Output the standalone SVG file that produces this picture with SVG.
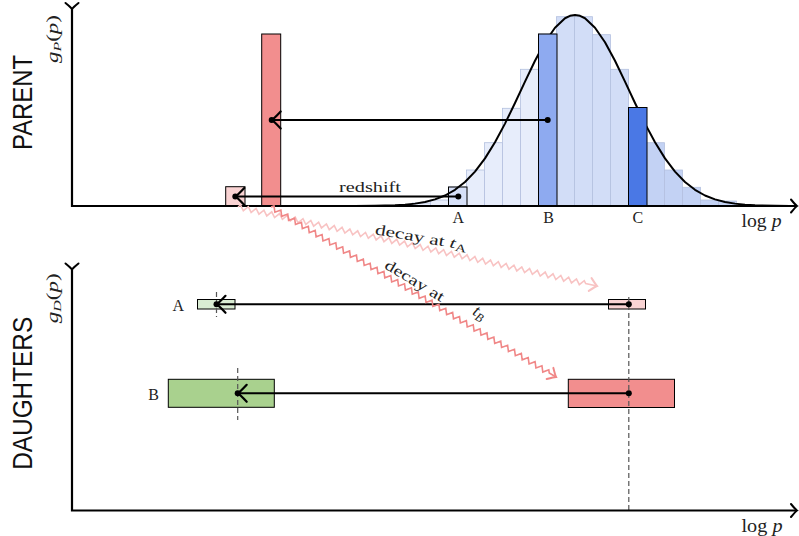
<svg xmlns="http://www.w3.org/2000/svg" width="799" height="536" viewBox="0 0 799 536">
<style>
.ax{stroke:#000;stroke-width:2.2;fill:none}
.bar{stroke:#000;stroke-width:1}
.hl{fill:#e7edfb;stroke:#b3c0df;stroke-width:0.8}
.hm{fill:#d2ddf7;stroke:#b3c0df;stroke-width:0.8}
.hr{fill:#c3d2f4;stroke:#b3c0df;stroke-width:0.8}
.arr{stroke:#000;stroke-width:2;fill:none}
.dash{stroke:#555;stroke-width:1.2;stroke-dasharray:5 3;fill:none}
.lab{font-family:'Liberation Serif','Times New Roman',serif;fill:#222}
.side{font-family:'Liberation Sans',Arial,sans-serif;font-size:27px;fill:#111}
.it{font-style:italic}
</style>
<defs>
<marker id="axh" markerUnits="userSpaceOnUse" orient="auto" overflow="visible" markerWidth="1" markerHeight="1">
<path d="M-6,-6.5 Q-1.5,-1 0,0 Q-1.5,1 -6,6.5" fill="none" stroke="#000" stroke-width="2" stroke-linecap="round"/>
</marker>
<marker id="ah" markerUnits="userSpaceOnUse" orient="auto" overflow="visible" markerWidth="1" markerHeight="1">
<path d="M-9,-8.5 Q-2,-1 0,0 Q-2,1 -9,8.5" fill="none" stroke="#000" stroke-width="2.2" stroke-linecap="round"/>
</marker>
<marker id="ahL" markerUnits="userSpaceOnUse" orient="auto" overflow="visible" markerWidth="1" markerHeight="1">
<path d="M-7,-6.5 Q-1.5,-1 0,0 Q-1.5,1 -7,6.5" fill="none" stroke="#f8c3c3" stroke-width="2" stroke-linecap="round"/>
</marker>
<marker id="ahD" markerUnits="userSpaceOnUse" orient="auto" overflow="visible" markerWidth="1" markerHeight="1">
<path d="M-7,-6.5 Q-1.5,-1 0,0 Q-1.5,1 -7,6.5" fill="none" stroke="#f08787" stroke-width="2" stroke-linecap="round"/>
</marker>
</defs>
<rect x="0" y="0" width="799" height="536" fill="#fff"/>

<!-- PARENT panel -->
<g id="histogram">
<rect class="hl" x="412.5" y="203" width="18" height="3"/>
<rect class="hl" x="430.5" y="200" width="18" height="6"/>
<rect class="hl" x="448.5" y="187" width="18" height="19"/>
<rect class="hl" x="466.5" y="170" width="18" height="36"/>
<rect class="hl" x="484.5" y="142.7" width="18" height="63.3"/>
<rect class="hl" x="502.5" y="108.3" width="18" height="97.7"/>
<rect class="hl" x="520.5" y="69.3" width="18" height="136.7"/>
<rect class="hm" x="538.5" y="34" width="18" height="172"/>
<rect class="hm" x="556.5" y="16.7" width="18" height="189.3"/>
<rect class="hm" x="574.5" y="16.7" width="18" height="189.3"/>
<rect class="hm" x="592.5" y="34.7" width="18" height="171.3"/>
<rect class="hm" x="610.5" y="69.3" width="18" height="136.7"/>
<rect class="hr" x="628.5" y="107.5" width="18" height="98.5"/>
<rect class="hr" x="646.5" y="142.7" width="18" height="63.3"/>
<rect class="hr" x="664.5" y="170" width="18" height="36"/>
<rect class="hr" x="682.5" y="187.3" width="18" height="18.7"/>
<rect class="hr" x="700.5" y="200" width="18" height="6"/>
<rect class="hr" x="718.5" y="201" width="18" height="5"/>
</g>
<g id="parent-redshifted-A"><rect class="bar" x="225.7" y="186.7" width="19.3" height="19.3" fill="#f9d3d3"/></g>
<g id="parent-redshifted-B"><rect class="bar" x="261.7" y="34" width="19" height="172" fill="#f28e8e"/></g>
<g id="parent-A"><rect class="bar" x="448.5" y="187" width="18.5" height="19" fill="#d6e0f8"/></g>
<g id="gaussian">
<polyline fill="none" stroke="#000" stroke-width="2" stroke-linejoin="round" points="340,206 355,205.95 375,205.8 395,205.26 405,204.65 415,203.63 425,201.97 435,199.37 445,195.5 455,189.8 465,182 475,171.6 485,158.4 495,142.3 505,123.6 515,103 525,81.6 535,60.8 545,42.3 555,27.7 565,18.25 570,15.82 575,15 580,15.82 585,18.25 595,27.7 605,42.3 615,60.8 625,81.6 635,103 645,123.6 655,142.3 665,158.4 675,171.6 685,182 695,189.8 705,195.5 715,199.37 725,201.97 735,203.63 745,204.65 755,205.26 775,205.8 790,205.95"/>
</g>
<g id="parent-B"><rect class="bar" x="538.5" y="34" width="18.5" height="172" fill="#8eaaf0"/></g>
<g id="parent-C"><rect class="bar" x="628.5" y="107.5" width="18.5" height="98.5" fill="#4a78e5"/></g>

<!-- DAUGHTERS panel -->
<g id="daughter-A-parent"><rect class="bar" x="608.5" y="299.5" width="37" height="9.5" fill="#f9d3d3"/></g>
<g id="daughter-A"><rect class="bar" x="197.5" y="299.5" width="37.5" height="9.5" fill="#d9ecd3"/></g>
<g id="daughter-B-parent"><rect class="bar" x="568.3" y="379.3" width="106.2" height="28.2" fill="#f28e8e"/></g>
<g id="daughter-B"><rect class="bar" x="168.3" y="379.3" width="106" height="28" fill="#a9d18e"/></g>

<g id="guides">
<line class="dash" x1="216.5" y1="292" x2="216.5" y2="317"/>
<line class="dash" x1="237.7" y1="368" x2="237.7" y2="420"/>
<line class="dash" x1="628.8" y1="297" x2="628.8" y2="510"/>
</g>

<g id="axes">
<polyline class="ax" points="72,9 72,206 797,206" marker-start="url(#axh)" marker-end="url(#axh)"/>
<polyline class="ax" points="72,269.5 72,510.5 797,510.5" marker-start="url(#axh)" marker-end="url(#axh)"/>
</g>

<g id="connectors">
<line class="arr" x1="547.7" y1="120" x2="271.7" y2="120" marker-end="url(#ah)"/>
<line class="arr" x1="458.3" y1="196.5" x2="235.3" y2="196.5" marker-end="url(#ah)"/>
<line class="arr" x1="628.8" y1="304.3" x2="216.5" y2="304.3" marker-end="url(#ah)"/>
<line class="arr" x1="628.8" y1="393.3" x2="237.7" y2="393.3" marker-end="url(#ah)"/>
<g fill="#000">
<circle cx="547.7" cy="120" r="3"/><circle cx="271.7" cy="120" r="3"/>
<circle cx="458.3" cy="196.5" r="3"/><circle cx="235.3" cy="196.5" r="3"/>
<circle cx="628.8" cy="304.3" r="3"/><circle cx="216.5" cy="304.3" r="3"/>
<circle cx="628.8" cy="393.3" r="3"/><circle cx="237.7" cy="393.3" r="3"/>
</g>
<path transform="translate(238,207) rotate(12.41)" fill="none" stroke="#f8c3c3" stroke-width="1.6" stroke-linejoin="miter" marker-end="url(#ahL)" d="M0,0 l2,-2.5
l4,5 l4,-5 l4,5 l4,-5 l4,5 l4,-5 l4,5 l4,-5
l4,5 l4,-5 l4,5 l4,-5 l4,5 l4,-5 l4,5 l4,-5
l4,5 l4,-5 l4,5 l4,-5 l4,5 l4,-5 l4,5 l4,-5
l4,5 l4,-5 l4,5 l4,-5 l4,5 l4,-5 l4,5 l4,-5
l4,5 l4,-5 l4,5 l4,-5 l4,5 l4,-5 l4,5 l4,-5
l4,5 l4,-5 l4,5 l4,-5 l4,5 l4,-5 l4,5 l4,-5
l4,5 l4,-5 l4,5 l4,-5 l4,5 l4,-5 l4,5 l4,-5
l4,5 l4,-5 l4,5 l4,-5 l4,5 l4,-5 l4,5 l4,-5
l4,5 l4,-5 l4,5 l4,-5 l4,5 l4,-5 l4,5 l4,-5
l4,5 l4,-5 l4,5 l4,-5 l4,5 l4,-5 l4,5 l4,-5
l4,5 l4,-5 l4,5 l4,-5 l4,5 l4,-5 l4,5 l4,-5
l2,2.5 h11.6"/>
<path transform="translate(271,207) rotate(30.82)" fill="none" stroke="#f08787" stroke-width="1.6" stroke-linejoin="miter" marker-end="url(#ahD)" d="M0,0 l2,-2.5
l4,5 l4,-5 l4,5 l4,-5 l4,5 l4,-5 l4,5 l4,-5
l4,5 l4,-5 l4,5 l4,-5 l4,5 l4,-5 l4,5 l4,-5
l4,5 l4,-5 l4,5 l4,-5 l4,5 l4,-5 l4,5 l4,-5
l4,5 l4,-5 l4,5 l4,-5 l4,5 l4,-5 l4,5 l4,-5
l4,5 l4,-5 l4,5 l4,-5 l4,5 l4,-5 l4,5 l4,-5
l4,5 l4,-5 l4,5 l4,-5 l4,5 l4,-5 l4,5 l4,-5
l4,5 l4,-5 l4,5 l4,-5 l4,5 l4,-5 l4,5 l4,-5
l4,5 l4,-5 l4,5 l4,-5 l4,5 l4,-5 l4,5 l4,-5
l4,5 l4,-5 l4,5 l4,-5 l4,5 l4,-5 l4,5 l4,-5
l4,5 l4,-5 l4,5 l4,-5 l4,5 l4,-5 l4,5 l4,-5
l2,2.5 h7.9"/>
</g>

<g id="labels">
<text class="side" transform="translate(31.7,102.5) rotate(-90)" text-anchor="middle" textLength="95" lengthAdjust="spacingAndGlyphs">PARENT</text>
<text class="side" transform="translate(31.7,393.3) rotate(-90)" text-anchor="middle" textLength="153" lengthAdjust="spacingAndGlyphs">DAUGHTERS</text>
<text class="lab" font-size="16" transform="translate(58.2,39) rotate(-90)" text-anchor="middle" textLength="48" lengthAdjust="spacingAndGlyphs"><tspan class="it">g</tspan><tspan class="it" font-size="11" dy="3">P</tspan><tspan dy="-3">(</tspan><tspan class="it">p</tspan>)</text>
<text class="lab" font-size="16" transform="translate(58.2,298.3) rotate(-90)" text-anchor="middle" textLength="50" lengthAdjust="spacingAndGlyphs"><tspan class="it">g</tspan><tspan class="it" font-size="11" dy="3">D</tspan><tspan dy="-3">(</tspan><tspan class="it">p</tspan>)</text>
<text class="lab" font-size="15.5" x="370" y="192" text-anchor="middle" textLength="62" lengthAdjust="spacingAndGlyphs">redshift</text>
<text class="lab" font-size="16" x="458.3" y="223" text-anchor="middle">A</text>
<text class="lab" font-size="16" x="548.5" y="223" text-anchor="middle">B</text>
<text class="lab" font-size="16" x="637.8" y="223" text-anchor="middle">C</text>
<text class="lab" font-size="18" x="741.5" y="226.5" textLength="40" lengthAdjust="spacingAndGlyphs">log <tspan class="it">p</tspan></text>
<text class="lab" font-size="18" x="741.5" y="532" textLength="41" lengthAdjust="spacingAndGlyphs">log <tspan class="it">p</tspan></text>
<text class="lab" font-size="16" x="178.3" y="310.7" text-anchor="middle">A</text>
<text class="lab" font-size="16" x="153.5" y="400" text-anchor="middle">B</text>
<text class="lab" font-size="15" transform="translate(420.3,242.2) rotate(10)" text-anchor="middle" textLength="93" lengthAdjust="spacingAndGlyphs">decay at <tspan class="it">t</tspan><tspan font-size="11" dy="2.5">A</tspan></text>
<text class="lab" font-size="15" transform="translate(412.2,285) rotate(31)" text-anchor="middle" textLength="67" lengthAdjust="spacingAndGlyphs">decay at</text>
<text class="lab" font-size="17" transform="translate(477,317) rotate(31)" text-anchor="middle"><tspan class="it">t</tspan><tspan class="it" font-size="12" dy="3">B</tspan></text>
</g>
</svg>
